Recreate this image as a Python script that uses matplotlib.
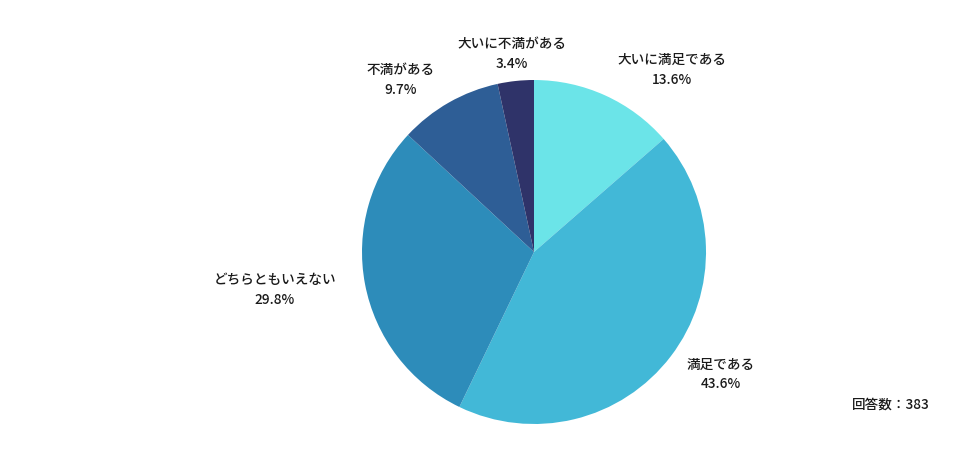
import matplotlib
matplotlib.use("Agg")
import matplotlib.pyplot as plt

plt.rcParams['font.family'] = ['Noto Sans CJK JP', 'DejaVu Sans']

labels = ['大いに満足である', '満足である', 'どちらともいえない', '不満がある', '大いに不満がある']
values = [13.6, 43.6, 29.8, 9.7, 3.4]
colors = ['#6BE4E8', '#42B8D7', '#2D8CBA', '#2E5E96', '#2F3369']
n_answers = 383

# label centres in pixels (x, y from top)
label_pos = [(672, 60), (721, 365), (275, 280), (401, 70), (512, 44)]

W, H = 976, 459
fig = plt.figure(figsize=(W / 100, H / 100), dpi=100)
ax = fig.add_axes([0, 0, 1, 1])

ax.pie(values, colors=colors, startangle=90, counterclock=False,
       center=(534, H - 252), radius=172, frame=True)
ax.set_xlim(0, W)
ax.set_ylim(0, H)
ax.set_aspect('equal')
ax.axis('off')

txt = dict(ha='center', va='center', fontsize=9.8, color='#1a1a1a', fontweight='medium')
for name, v, (x, y) in zip(labels, values, label_pos):
    ax.text(x, H - y, name, **txt)
    ax.text(x, H - y - 19.5, f'{v}%', **txt)

ax.text(930, H - 405, f'回答数：{n_answers}', ha='right', va='center',
        fontsize=9.8, color='#1a1a1a', fontweight='medium')

fig.savefig('out.png', dpi=100)
